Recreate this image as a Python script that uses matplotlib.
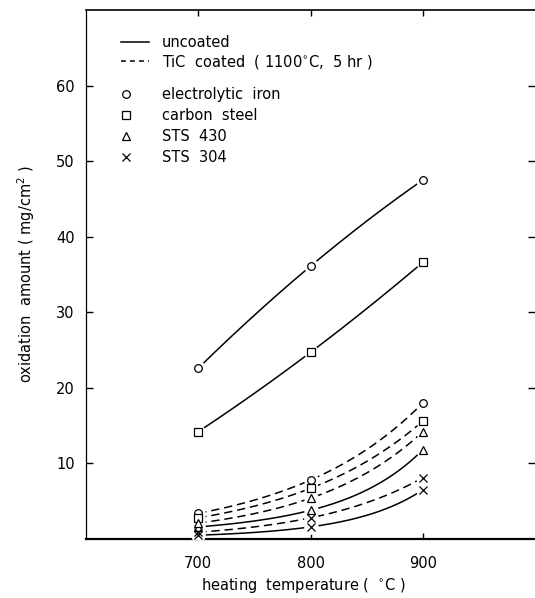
import numpy as np
import matplotlib
matplotlib.use('Agg')
import matplotlib.pyplot as plt
from matplotlib.lines import Line2D

plt.rcParams['font.family'] = ['DejaVu Sans']
plt.rcParams['lines.scale_dashes'] = False

# ---- data ----
temps = [700, 800, 900]
iron_uncoated = [22.6, 36.1, 47.5]
steel_uncoated = [14.2, 24.7, 36.6]
sts430_uncoated = [1.6, 3.8, 11.8]
sts304_uncoated = [0.5, 1.6, 6.5]
iron_coated = [3.4, 7.8, 18.0]
steel_coated = [2.8, 6.7, 15.6]
sts430_coated = [2.1, 5.4, 14.2]
sts304_coated = [0.9, 2.8, 8.1]

x_ticks = [700, 800, 900]
y_ticks = [10, 20, 30, 40, 50, 60]

legend_style_labels = ['uncoated', 'TiC  coated  ( 1100$^{\\circ}$C,  5 hr )']
legend_marker_labels = ['electrolytic  iron', 'carbon  steel', 'STS  430', 'STS  304']

# (values, marker, linestyle, smooth in log space?)
series = [
    (iron_uncoated, 'o', '-', False),
    (steel_uncoated, 's', '-', False),
    (sts430_uncoated, '^', '-', True),
    (sts304_uncoated, 'x', '-', True),
    (iron_coated, 'o', '--', True),
    (steel_coated, 's', '--', True),
    (sts430_coated, '^', '--', True),
    (sts304_coated, 'x', '--', True),
]

W, H = 535, 598
fig = plt.figure(figsize=(W / 100, H / 100), dpi=100)
ax = fig.add_axes([86 / W, 1 - 539 / H, 449 / W, 529 / H])

dash = (0, (6, 3.5))
xs = np.linspace(temps[0], temps[-1], 200)
for vals, mk, ls, uselog in series:
    if uselog:
        coef = np.polyfit(temps, np.log(vals), 2)
        ys = np.exp(np.polyval(coef, xs))
    else:
        coef = np.polyfit(temps, vals, 2)
        ys = np.polyval(coef, xs)
    ax.plot(xs, ys, color='black', lw=1.1,
            linestyle='-' if ls == '-' else dash, zorder=2)

# white halos -> small gaps of the curves around the symbols
for vals, mk, ls, _ in series:
    ax.plot(temps, vals, linestyle='none', marker='o', ms=9.5,
            mfc='white', mec='white', zorder=3)
for vals, mk, ls, _ in series:
    ax.plot(temps, vals, linestyle='none', marker=mk,
            ms=6 if mk == 'x' else 5.5,
            mfc='white', mec='black', mew=0.9, zorder=4, clip_on=False)

ax.set_xlim(600, 1000)
ax.set_ylim(0, 70)
ax.set_xticks(x_ticks)
ax.set_yticks(y_ticks)
ax.tick_params(axis='y', direction='in', left=True, right=True, length=5,
               width=1, pad=8, labelsize=10.5)
ax.tick_params(axis='x', direction='in', bottom=True, top=True, length=4,
               width=1, pad=12, labelsize=10.5)

ax.spines['right'].set_visible(False)
ax.spines['bottom'].set_linewidth(1.6)
ax.spines['top'].set_linewidth(1.2)
ax.spines['left'].set_linewidth(0.9)

ax.set_xlabel('heating  temperature (  $^{\\circ}$C )', fontsize=10.5)
ax.xaxis.set_label_coords(0.485, -0.07)
ax.set_ylabel('oxidation  amount ( mg/cm$^{2}$ )', fontsize=10.5)
ax.yaxis.set_label_coords(-0.11, 0.5)

# legends
h1 = [Line2D([], [], color='black', lw=1.1, linestyle='-'),
      Line2D([], [], color='black', lw=1.1, linestyle=(0, (3.5, 3)))]
leg1 = ax.legend(h1, legend_style_labels, loc='upper left',
                 bbox_to_anchor=(0.078, 0.952), frameon=False, fontsize=10.5,
                 handlelength=1.9, handletextpad=0.9, labelspacing=0.18,
                 borderpad=0, borderaxespad=0)
ax.add_artist(leg1)
markers = ['o', 's', '^', 'x']
h2 = [Line2D([], [], linestyle='none', marker=m, ms=6 if m == 'x' else 5.5,
             mfc='white', mec='black', mew=0.9) for m in markers]
ax.legend(h2, legend_marker_labels, loc='upper left',
          bbox_to_anchor=(0.078, 0.855), frameon=False, fontsize=10.5,
          handlelength=0.7, handletextpad=2.1, labelspacing=0.42,
          borderpad=0, borderaxespad=0)

fig.savefig('out.png', dpi=100)
